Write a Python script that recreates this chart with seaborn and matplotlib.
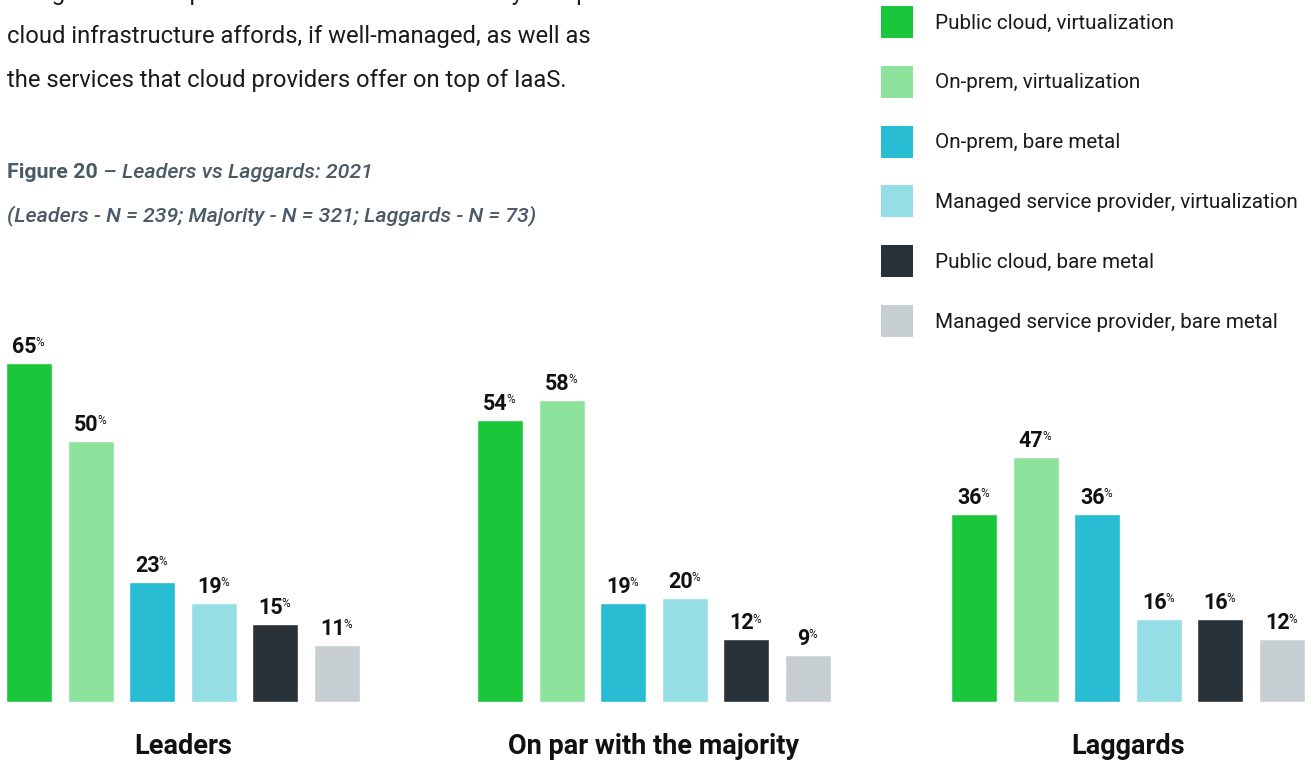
import matplotlib
matplotlib.use("Agg")
import matplotlib.pyplot as plt
import seaborn as sns
import pandas as pd
from matplotlib.patches import Patch

# ---- data ----
groups = ["Leaders", "On par with the majority", "Laggards"]
series = [
    "Public cloud, virtualization",
    "On-prem, virtualization",
    "On-prem, bare metal",
    "Managed service provider, virtualization",
    "Public cloud, bare metal",
    "Managed service provider, bare metal",
]
leaders = [65, 50, 23, 19, 15, 11]
majority = [54, 58, 19, 20, 12, 9]
laggards = [36, 47, 36, 16, 16, 12]
colors = ["#1BC73A", "#8EE39C", "#29BDD3", "#96DEE6", "#283138", "#C7CED1"]

intro_lines = [
    "this growth in on-premises is due to the elasticity that public",
    "cloud infrastructure affords, if well-managed, as well as",
    "the services that cloud providers offer on top of IaaS.",
]
fig_label = "Figure 20"
fig_title = " \u2013 Leaders vs Laggards: 2021"
fig_sub = "(Leaders - N = 239; Majority - N = 321; Laggards - N = 73)"

sns.set_theme(style="white")
plt.rcParams["font.family"] = ["Roboto", "DejaVu Sans"]

W, H = 1312, 762
DPI = 100
fig = plt.figure(figsize=(W / DPI, H / DPI), dpi=DPI)


def fx(px):
    return px / W


def fy(px):
    return 1 - px / H


# ---- intro text ----
for i, line in enumerate(intro_lines):
    fig.text(fx(7), fy(-7 + 44 * i), line, fontsize=17.1, color="#1a1a1a",
             va="center", ha="left")

# ---- caption ----
cap_color = "#4A5966"
t1 = fig.text(fx(7), fy(172), fig_label, fontsize=15.4, weight="bold",
              color=cap_color, va="center", ha="left")
fig.canvas.draw()
r = fig.canvas.get_renderer()
bb = t1.get_window_extent(r)
fig.text(fx(bb.x1), fy(172), fig_title, fontsize=15.4, style="italic",
         weight="medium", color=cap_color, va="center", ha="left")
fig.text(fx(7), fy(216), fig_sub, fontsize=15.4, style="italic",
         weight="medium", color=cap_color, va="center", ha="left")

# ---- bars ----
data_sets = [leaders, majority, laggards]
lefts = [6, 477, 951]
ax_w = 354
base_px = 702
ymax = 70
px_per_unit = 5.215
ax_h = ymax * px_per_unit

FN, FP = 15.5, 8.5
axes = []
for g, vals, lx in zip(groups, data_sets, lefts):
    ax = fig.add_axes([fx(lx), (H - base_px) / H, ax_w / W, ax_h / H])
    df = pd.DataFrame({"series": series, "value": vals})
    sns.barplot(data=df, x="series", y="value", hue="series", order=series,
                hue_order=series, palette=colors, saturation=1, width=0.75,
                legend=False, ax=ax)
    ax.set_xlim(-0.375, len(series) - 0.625)
    ax.set_ylim(0, ymax)
    ax.axis("off")
    axes.append(ax)
    fig.text(fx(lx + ax_w / 2), fy(746), g, fontsize=19.5, weight="bold",
             color="#111111", ha="center", va="center")

fig.canvas.draw()
r = fig.canvas.get_renderer()
for ax, vals in zip(axes, data_sets):
    for i, v in enumerate(vals):
        t = ax.annotate(str(v), (i, v), xytext=(-4.5, 10),
                        textcoords="offset pixels", ha="center",
                        va="baseline", fontsize=FN, weight="bold",
                        color="#111111")
        w = t.get_window_extent(r).width
        ax.annotate("%", (i, v),
                    xytext=(-4.5 + w / 2 - 1.5, 10 + 0.711 * (FN - FP) * DPI / 72),
                    textcoords="offset pixels", ha="left", va="baseline",
                    fontsize=FP, color="#111111")

# ---- legend ----
LFS = 14.85
lfs_px = LFS * DPI / 72
hh = (32 / lfs_px - 0.245) / 0.65
handles = [Patch(facecolor=c, edgecolor="none", label=s)
           for c, s in zip(colors, series)]
fig.legend(handles=handles, loc="upper left",
           bbox_to_anchor=(fx(881), fy(6)), frameon=False, fontsize=LFS,
           handlelength=32 / lfs_px, handleheight=hh,
           handletextpad=22 / lfs_px,
           labelspacing=(59.8 - 32) / lfs_px, borderpad=0, borderaxespad=0,
           labelcolor="#1a1a1a")

fig.savefig("out.png", dpi=DPI)
